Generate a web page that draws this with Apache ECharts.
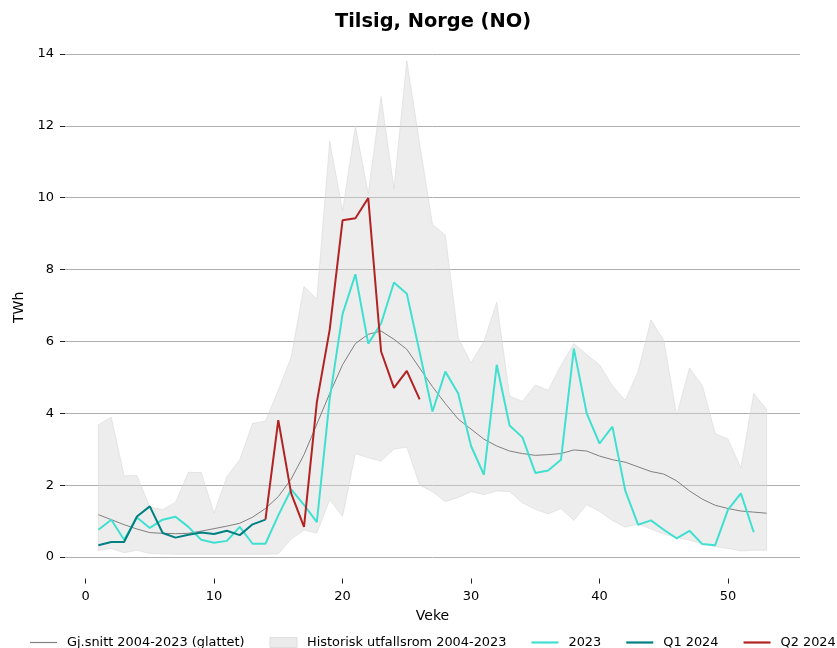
<!DOCTYPE html>
<html>
<head>
<meta charset="utf-8">
<title>Tilsig, Norge (NO)</title>
<script src="https://cdn.jsdelivr.net/npm/echarts@6/dist/echarts.min.js"></script>
<style>
    html, body { margin: 0; padding: 0; background: #fff; }
    #chart { width: 837px; height: 648px; }
</style>
</head>
<body>
<div id="chart"></div>
<script>
// veke 1..53
const weeks = [];
for (let w = 1; w <= 53; w++) weeks.push(w);

// Gj.snitt 2004-2023 (glattet), veke 1-53
const meanValues = [1.18, 1.04, 0.9, 0.78, 0.68, 0.66, 0.65, 0.66, 0.72, 0.79,
    0.86, 0.94, 1.11, 1.35, 1.68, 2.17, 2.85, 3.7, 4.55, 5.35,
    5.94, 6.2, 6.29, 6.06, 5.78, 5.26, 4.74, 4.27, 3.84, 3.56,
    3.28, 3.09, 2.95, 2.88, 2.83, 2.85, 2.88, 2.98, 2.95, 2.81,
    2.71, 2.64, 2.51, 2.38, 2.31, 2.12, 1.84, 1.61, 1.44, 1.35,
    1.28, 1.25, 1.22];

// Historisk utfallsrom 2004-2023 (min / max)
const bandMax = [3.68, 3.89, 2.26, 2.27, 1.39, 1.32, 1.52, 2.36, 2.35, 1.22,
    2.24, 2.71, 3.72, 3.78, 4.65, 5.56, 7.53, 7.18, 11.57, 9.64,
    11.99, 10.11, 12.81, 10.25, 13.81, 11.5, 9.26, 8.95, 6.1, 5.4,
    6.0, 7.09, 4.48, 4.33, 4.79, 4.64, 5.33, 5.94, 5.63, 5.35,
    4.77, 4.36, 5.16, 6.6, 6.03, 3.94, 5.26, 4.77, 3.44, 3.28,
    2.48, 4.55, 4.11];
const bandMin = [0.18, 0.24, 0.12, 0.19, 0.1, 0.09, 0.08, 0.08, 0.08, 0.08,
    0.08, 0.08, 0.08, 0.08, 0.09, 0.5, 0.75, 0.67, 1.6, 1.13,
    2.88, 2.76, 2.67, 3.0, 3.06, 2.0, 1.82, 1.54, 1.66, 1.82,
    1.74, 1.84, 1.82, 1.51, 1.33, 1.2, 1.35, 1.02, 1.46, 1.27,
    1.02, 0.83, 0.92, 0.78, 0.64, 0.55, 0.47, 0.36, 0.29, 0.24,
    0.17, 0.19, 0.19];

// 2023, veke 1-52
const values2023 = [0.76, 1.04, 0.48, 1.1, 0.81, 1.04, 1.12, 0.84, 0.48, 0.4,
    0.45, 0.84, 0.37, 0.37, 1.16, 1.88, 1.45, 0.97, 4.4, 6.76,
    7.87, 5.94, 6.5, 7.64, 7.33, 5.7, 4.05, 5.16, 4.55, 3.09,
    2.29, 5.35, 3.66, 3.33, 2.34, 2.41, 2.71, 5.8, 4.0, 3.16,
    3.63, 1.85, 0.9, 1.02, 0.76, 0.52, 0.73, 0.36, 0.33, 1.32,
    1.77, 0.69];

// Q1 2024, veke 1-14
const valuesQ1 = [0.33, 0.42, 0.42, 1.13, 1.41, 0.67, 0.54, 0.62, 0.68, 0.64,
    0.73, 0.61, 0.91, 1.04];

// Q2 2024, veke 14-26
const q2StartWeek = 14;
const valuesQ2 = [1.04, 3.81, 1.77, 0.84, 4.31, 6.33, 9.37, 9.43, 9.99, 5.72,
    4.71, 5.18, 4.39];

const xTicks = [0, 10, 20, 30, 40, 50];
const yTicks = [0, 2, 4, 6, 8, 10, 12, 14];

const pairs = (vals, start) => vals.map((v, i) => [start + i, v]);

const textColor = '#000';
const font = 'DejaVu Sans';

// legend line icons (the M moves keep the icon box 10px tall)
const lineIcon = w => `path://M0,0 M0,10 M0,${5 - w / 2} L27,${5 - w / 2} L27,${5 + w / 2} L0,${5 + w / 2} Z`;

// the band polygon: upper edge forwards, lower edge backwards
const renderBand = (params, api) => {
    if (params.dataIndex !== 0) return null;
    const points = [];
    for (let i = 0; i < weeks.length; i++) points.push(api.coord([weeks[i], bandMax[i]]));
    for (let i = weeks.length - 1; i >= 0; i--) points.push(api.coord([weeks[i], bandMin[i]]));
    return {
        type: 'polygon',
        shape: { points },
        style: {
            fill: 'rgba(211,211,211,0.42)',
            stroke: 'rgba(211,211,211,0.5)',
            lineWidth: 1
        }
    };
};

const chart = echarts.init(document.getElementById('chart'), null, { renderer: 'canvas' });

const option = {
    animation: false,
    backgroundColor: '#fff',
    textStyle: { fontFamily: font },
    title: {
        text: 'Tilsig, Norge (NO)',
        left: 335,
        top: 12,
        padding: 0,
        textStyle: { fontFamily: font, fontSize: 19.4, fontWeight: 'bold', color: textColor }
    },
    grid: {
        left: 65,
        right: 37,
        top: 36,
        bottom: 69.4,
        containLabel: false
    },
    legend: {
        left: 30,
        top: 636,
        padding: 0,
        width: 830,
        itemWidth: 27,
        itemHeight: 10,
        itemGap: 25,
        textStyle: { fontFamily: font, fontSize: 12.9, color: textColor, padding: [0, 0, 0, 5] },
        data: [
            { name: 'Gj.snitt 2004-2023 (glattet)', icon: lineIcon(1.2), itemStyle: { color: '#808080' } },
            { name: 'Historisk utfallsrom 2004-2023', icon: 'rect',
              itemStyle: { color: '#ebebeb', borderColor: '#dedede', borderWidth: 1 } },
            { name: '2023', icon: lineIcon(2.2), itemStyle: { color: '#40E0D0' } },
            { name: 'Q1 2024', icon: lineIcon(2.2), itemStyle: { color: '#008080' } },
            { name: 'Q2 2024', icon: lineIcon(2.2), itemStyle: { color: '#B22222' } }
        ]
    },
    xAxis: {
        type: 'value',
        min: -1.6,
        max: 55.6,
        name: 'Veke',
        nameLocation: 'middle',
        nameGap: 31,
        nameTextStyle: { fontFamily: font, fontSize: 14, color: textColor },
        axisLine: { show: false, onZero: false },
        axisTick: {
            show: true,
            length: 5,
            customValues: xTicks,
            lineStyle: { color: '#222', width: 1 }
        },
        axisLabel: {
            customValues: xTicks,
            margin: 12,
            fontFamily: font,
            fontSize: 13,
            color: textColor
        },
        splitLine: { show: false }
    },
    yAxis: {
        type: 'value',
        min: -0.6,
        max: 14.5,
        name: 'TWh',
        nameLocation: 'middle',
        nameGap: 33,
        nameTextStyle: { fontFamily: font, fontSize: 14, color: textColor },
        axisLine: { show: false, onZero: false },
        axisTick: {
            show: true,
            length: 5,
            customValues: yTicks,
            lineStyle: { color: '#222', width: 1 }
        },
        axisLabel: {
            customValues: yTicks,
            margin: 11,
            fontFamily: font,
            fontSize: 13,
            color: textColor
        },
        splitLine: {
            show: true,
            lineStyle: { color: '#b0b0b0', width: 1 }
        }
    },
    series: [
        {
            name: 'Historisk utfallsrom 2004-2023',
            type: 'custom',
            renderItem: renderBand,
            data: weeks.map((w, i) => [w, bandMin[i], bandMax[i]]),
            encode: { x: 0, y: [1, 2] },
            silent: true,
            color: '#ebebeb',
            z: 1
        },
        {
            name: 'Gj.snitt 2004-2023 (glattet)',
            type: 'line',
            data: pairs(meanValues, 1),
            symbol: 'none',
            color: '#808080',
            lineStyle: { color: '#808080', width: 1 },
            z: 2
        },
        {
            name: '2023',
            type: 'line',
            data: pairs(values2023, 1),
            symbol: 'none',
            color: '#40E0D0',
            lineStyle: { color: '#40E0D0', width: 2 },
            z: 3
        },
        {
            name: 'Q1 2024',
            type: 'line',
            data: pairs(valuesQ1, 1),
            symbol: 'none',
            color: '#008080',
            lineStyle: { color: '#008080', width: 2 },
            z: 4
        },
        {
            name: 'Q2 2024',
            type: 'line',
            data: pairs(valuesQ2, q2StartWeek),
            symbol: 'none',
            color: '#B22222',
            lineStyle: { color: '#B22222', width: 2 },
            z: 5
        }
    ]
};

chart.setOption(option);
</script>
</body>
</html>
